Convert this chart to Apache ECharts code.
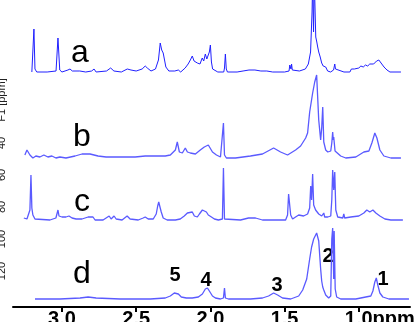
<!DOCTYPE html>
<html>
<head>
<meta charset="utf-8">
<script src="https://cdn.jsdelivr.net/npm/echarts@6/dist/echarts.min.js"></script>
<style>
  html, body { margin: 0; padding: 0; background: #fff; }
  #chart { width: 420px; height: 322px; }
</style>
</head>
<body>
<div id="chart"></div>
<script>
// chemical shift (ppm) vs intensity
const traceA = [
  [3.203,0],[3.196,2],[3.189,43],[3.182,3],[3.17,0],[3.10,0],[3.04,1],[3.027,34],[3.015,2],[3.00,0],
  [2.96,2],[2.946,3],[2.93,1],[2.88,1],[2.84,0],[2.80,1],[2.784,3],[2.77,0],[2.70,1],[2.672,4],
  [2.662,5],[2.65,1],[2.60,0],[2.56,3],[2.547,5],[2.535,2],[2.50,1],[2.46,3],[2.439,6],[2.425,4],
  [2.40,1],[2.37,3],[2.35,12],[2.338,29],[2.328,22],[2.318,19],[2.30,5],[2.28,1],[2.24,1],[2.216,2],
  [2.20,0],[2.17,4],[2.15,8],[2.135,12],[2.122,16],[2.11,11],[2.098,13],[2.088,9],[2.07,8],[2.055,14],
  [2.045,11],[2.034,18],[2.024,13],[2.014,12],[2.007,20],[2.0,27],[1.993,10],[1.985,3],[1.975,1],[1.95,0],
  [1.91,0],[1.905,4],[1.899,18],[1.893,3],[1.885,0],[1.82,0],[1.78,1],[1.74,2],[1.70,2],[1.66,1],
  [1.62,1],[1.58,0],[1.50,0],[1.47,1],[1.465,7],[1.461,8],[1.457,3],[1.453,8],[1.448,2],[1.44,0],
  [1.40,1],[1.36,3],[1.34,8],[1.325,20],[1.315,60],[1.311,90],[1.305,40],[1.300,90],[1.296,70],[1.29,35],
  [1.283,30],[1.277,25],[1.27,20],[1.26,15],[1.25,9],[1.24,6],[1.23,4],[1.223,5],[1.218,3],[1.21,1],
  [1.19,0],[1.17,2],[1.162,8],[1.157,3],[1.15,1],[1.10,0],[1.06,0],[1.05,3],[1.04,2],[1.03,3],
  [1.02,4],[1.00,4],[0.986,6],[0.97,5],[0.955,7],[0.94,6],[0.926,8],[0.915,7],[0.90,8],[0.89,9],
  [0.88,11],[0.865,12],[0.85,9],[0.83,5],[0.81,2],[0.79,0],[0.716,0]
];
const traceB = [
  [3.25,3],[3.236,8],[3.216,3],[3.196,0],[3.176,2],[3.149,1],[3.122,3],[3.095,1],[3.068,2],[3.041,0],
  [3.014,1],[2.973,0],[2.912,2],[2.865,4],[2.811,4],[2.757,2],[2.703,1],[2.642,1],[2.574,1],[2.507,1],
  [2.439,2],[2.372,2],[2.304,2],[2.27,3],[2.236,8],[2.223,16],[2.209,6],[2.189,5],[2.169,10],[2.155,6],
  [2.135,5],[2.101,4],[2.068,8],[2.041,11],[2.014,13],[1.986,6],[1.959,3],[1.932,1],[1.919,3],[1.912,35],
  [1.905,3],[1.892,0],[1.831,0],[1.730,2],[1.649,4],[1.574,10],[1.527,6],[1.480,3],[1.426,8],[1.392,12],
  [1.358,20],[1.345,25],[1.331,46],[1.311,65],[1.297,76],[1.284,83],[1.270,38],[1.257,18],[1.250,30],[1.243,51],
  [1.236,16],[1.223,8],[1.209,6],[1.189,7],[1.182,15],[1.176,26],[1.172,18],[1.169,21],[1.160,7],[1.149,5],
  [1.122,2],[1.088,0],[1.020,1],[0.966,6],[0.932,7],[0.912,15],[0.892,25],[0.878,20],[0.858,8],[0.831,2],
  [0.784,0],[0.716,0]
];
const traceC = [
  [3.257,2],[3.25,3],[3.236,1],[3.223,2],[3.216,10],[3.209,45],[3.203,12],[3.196,5],[3.189,7],[3.182,1],
  [3.169,0],[3.081,0],[3.041,2],[3.027,10],[3.020,4],[3.0,3],[2.973,3],[2.953,4],[2.932,2],[2.905,1],
  [2.865,1],[2.824,3],[2.811,2],[2.791,3],[2.777,0],[2.723,0],[2.682,4],[2.669,1],[2.649,4],[2.635,1],
  [2.595,0],[2.561,4],[2.541,1],[2.486,0],[2.453,2],[2.439,3],[2.419,1],[2.385,1],[2.365,6],[2.355,14],
  [2.348,18],[2.338,12],[2.331,8],[2.318,2],[2.291,0],[2.236,0],[2.203,1],[2.176,4],[2.155,7],[2.142,6],
  [2.122,8],[2.108,4],[2.088,3],[2.074,6],[2.054,10],[2.041,9],[2.027,8],[2.014,5],[1.993,3],[1.973,1],
  [1.946,0],[1.919,1],[1.912,52],[1.905,1],[1.892,0],[1.797,0],[1.743,2],[1.696,2],[1.649,0],[1.493,0],
  [1.480,5],[1.473,26],[1.466,24],[1.459,5],[1.446,1],[1.426,3],[1.405,5],[1.372,4],[1.345,6],[1.331,12],
  [1.324,34],[1.318,20],[1.311,46],[1.304,15],[1.291,10],[1.270,6],[1.250,4],[1.236,7],[1.230,3],[1.209,3],
  [1.189,4],[1.182,20],[1.176,50],[1.169,30],[1.162,48],[1.155,10],[1.142,3],[1.108,2],[1.101,6],[1.095,2],
  [1.054,3],[1.000,4],[0.966,7],[0.946,10],[0.926,8],[0.905,10],[0.885,7],[0.858,4],[0.824,1],[0.784,0],
  [0.703,0]
];
const traceD = [
  [3.182,0],[3.014,0],[2.878,1],[2.824,2],[2.770,1],[2.608,0],[2.405,0],[2.304,1],[2.270,3],[2.243,6],
  [2.230,7],[2.216,5],[2.196,2],[2.162,1],[2.122,1],[2.081,2],[2.054,5],[2.034,10],[2.020,11],[2.007,8],
  [1.986,3],[1.966,1],[1.932,0],[1.912,1],[1.905,11],[1.899,1],[1.878,0],[1.730,0],[1.649,1],[1.608,3],
  [1.574,6],[1.547,4],[1.514,1],[1.459,0],[1.405,3],[1.378,9],[1.351,20],[1.331,40],[1.318,52],[1.304,60],
  [1.284,66],[1.270,58],[1.264,45],[1.257,30],[1.250,18],[1.243,12],[1.236,9],[1.223,4],[1.203,1],[1.189,3],
  [1.182,60],[1.176,71],[1.169,20],[1.166,68],[1.159,10],[1.149,2],[1.122,0],[1.020,0],[0.953,2],[0.919,3],
  [0.905,8],[0.892,17],[0.882,21],[0.872,14],[0.858,6],[0.838,2],[0.797,0],[0.662,0]
];
const traceNames = ['a', 'b', 'c', 'd'];
const tickValues = [1.0, 1.5, 2.0, 2.5, 3.0];
const f1Labels = ['F1 [ppm]', '40', '60', '80', '100', '120'];
const peakNames = ['1', '2', '3', '4', '5'];

const traces = [traceA, traceB, traceC, traceD];
const offsets = [235, 149, 87, 8];        // vertical stacking of the spectra
const colors = ['#2020ff', '#5a5aff', '#5a5aff', '#5a5aff'];
const widths = [1, 1.3, 1.3, 1.3];

const chart = echarts.init(document.getElementById('chart'));

const series = traces.map((t, i) => ({
  type: 'line',
  name: traceNames[i],
  showSymbol: false,
  symbol: 'none',
  clip: true,
  lineStyle: { width: widths[i], color: colors[i] },
  data: t.map(p => [p[0], p[1] + offsets[i]]),
}));

const letterPos = [[80, 53], [82, 137], [82, 202], [82, 274]];
const peakPos = [[383, 279], [328, 256], [277, 285], [206, 280], [175, 275]];
const f1Pos = [100, 143, 175, 207, 239, 271];

const graphic = [];
traceNames.forEach((n, i) => {
  graphic.push({
    type: 'text', x: letterPos[i][0], y: letterPos[i][1],
    style: { text: n, fontSize: 32, fontFamily: 'Liberation Sans, Arial', fill: '#000', align: 'center', verticalAlign: 'middle' },
  });
});
peakNames.forEach((n, i) => {
  graphic.push({
    type: 'text', x: peakPos[i][0], y: peakPos[i][1],
    style: { text: n, fontSize: 20, fontWeight: 'bold', fontFamily: 'Liberation Sans, Arial', fill: '#000', align: 'center', verticalAlign: 'middle' },
  });
});
f1Labels.forEach((n, i) => {
  graphic.push({
    type: 'text', x: 2, y: f1Pos[i], rotation: Math.PI / 2,
    style: { text: n, fontSize: 11, fontFamily: 'Liberation Sans, Arial', fill: '#222', align: 'center', verticalAlign: 'middle' },
  });
});

chart.setOption({
  animation: false,
  grid: { left: 13, right: 10, top: 0, bottom: 15, outerBoundsMode: 'none', containLabel: false },
  xAxis: {
    type: 'value',
    inverse: true,
    min: 0.655,
    max: 3.33,
    splitLine: { show: false },
    axisLine: { lineStyle: { color: '#000', width: 2 } },
    axisTick: { customValues: tickValues, length: 5, lineStyle: { color: '#000', width: 2 } },
    axisLabel: {
      customValues: tickValues,
      margin: 2,
      color: '#000',
      fontSize: 20,
      fontWeight: 'bold',
      fontFamily: 'Liberation Sans, Arial',
      formatter: v => (v === 1 ? '{u|1.0ppm}' : v.toFixed(1)),
      rich: {
        u: { fontSize: 20, fontWeight: 'bold', fontFamily: 'Liberation Sans, Arial', color: '#000', padding: [0, 0, 0, 42] },
      },
    },
  },
  yAxis: { type: 'value', min: 0, max: 307, show: false },
  series,
  graphic,
});
</script>
</body>
</html>
